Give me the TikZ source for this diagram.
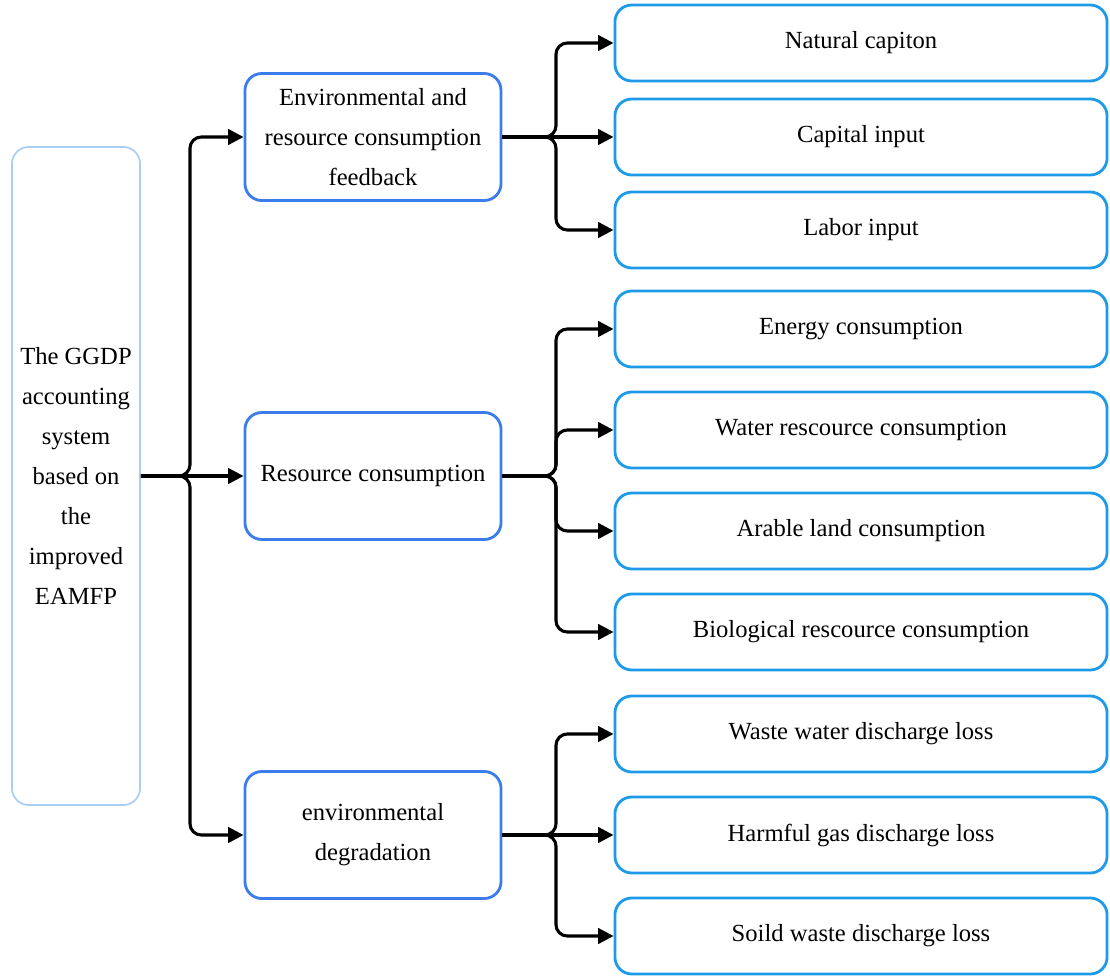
\documentclass[tikz,border=0pt]{standalone}
\usepackage{fontspec}
\setmainfont{Liberation Serif}
\usetikzlibrary{arrows.meta}
\definecolor{rootblue}{RGB}{170,205,245}
\definecolor{midblue}{RGB}{59,125,237}
\definecolor{leafblue}{RGB}{30,155,232}
\begin{document}
\begin{tikzpicture}[x=0.025cm, y=-0.025cm,
        font=\fontsize{17.5}{28.4}\selectfont,
        rootbox/.style={draw=rootblue, line width=1.2pt, rounded corners=12pt,
            minimum width=3.2cm, minimum height=16.45cm, align=center},
        midbox/.style={draw=midblue, line width=2pt, rounded corners=12pt,
            minimum width=6.4cm, minimum height=3.175cm, align=center},
        leafbox/.style={draw=leafblue, line width=2pt, rounded corners=12pt,
            minimum width=12.3cm, minimum height=1.9cm},
        link/.style={line width=2.2pt, rounded corners=8pt,
            -{Triangle[length=11pt, width=11pt]}}]
        \useasboundingbox (0,0) rectangle (1110,978);

        % Root and the three groups
        \node[rootbox] (root) at (76,476) {The GGDP\\accounting\\system\\based on\\the\\improved\\EAMFP};
        \node[midbox] (env) at (373,137) {Environmental and\\resource consumption\\feedback};
        \node[midbox] (res) at (373,476) {Resource consumption};
        \node[midbox] (deg) at (373,835) {environmental\\degradation};

        % Leaf items
        \foreach \name/\y/\txt in {nat/43/Natural capiton, cap/137/Capital input,
                lab/230/Labor input, ene/329/Energy consumption,
                wat/430/Water rescource consumption, ara/531/Arable land consumption,
                bio/632/Biological rescource consumption, waw/734/Waste water discharge loss,
                gas/835/Harmful gas discharge loss, sol/936/Soild waste discharge loss}
            \node[leafbox] (\name) at (861,\y) {\txt};

        % Branch points
        \coordinate (j0) at (190,476);
        \coordinate (j1) at (556,137);
        \coordinate (j2) at (556,476);
        \coordinate (j3) at (556,835);

        % Connectors
        \draw[link] (root.east) -- (res.west);
        \foreach \grp in {env,deg}
            \draw[link] (root.east) -- (j0) |- (\grp.west);
        \draw[link] (env.east) -- (cap.west);
        \foreach \leaf in {nat,lab}
            \draw[link] (env.east) -- (j1) |- (\leaf.west);
        \foreach \leaf in {ene,wat,ara,bio}
            \draw[link] (res.east) -- (j2) |- (\leaf.west);
        \draw[link] (deg.east) -- (gas.west);
        \foreach \leaf in {waw,sol}
            \draw[link] (deg.east) -- (j3) |- (\leaf.west);
    \end{tikzpicture}
\end{document}
